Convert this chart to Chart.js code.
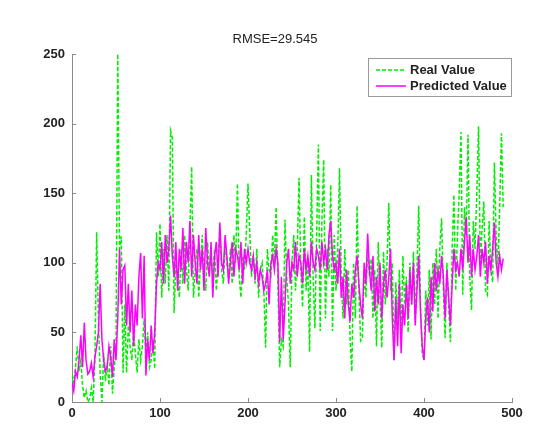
<!DOCTYPE html>
<html>
<head>
<meta charset="utf-8">
<script src="https://cdn.jsdelivr.net/npm/chart.js@4/dist/chart.umd.min.js"></script>
<style>
    html, body { margin: 0; padding: 0; background: #ffffff; }
    #wrap { width: 555px; height: 430px; position: relative; }
</style>
</head>
<body>
<div id="wrap"><canvas id="rmseChart"></canvas></div>
<script>

const chartTitle = "RMSE=29.545";

const seriesNames = ["Real Value", "Predicted Value"];

// sample spacing along x (one value every 2 steps)
const xStep = 2;

const xTicks = [0, 100, 200, 300, 400, 500];
const yTicks = [0, 50, 100, 150, 200, 250];

const realValues = [
    20, 14, 25, 40, 22, 30, 12, 3, 8, 0,
    2, 10, 0, 30, 122, 60, 20, 0, 35, 15,
    28, 12, 40, 6, 25, 38, 250, 110, 119, 21,
    70, 21, 55, 40, 30, 50, 35, 21, 45, 30,
    40, 60, 35, 50, 25, 30, 45, 24, 122, 90,
    128, 75, 110, 85, 120, 80, 195, 190, 64, 100,
    90, 75, 110, 85, 120, 95, 80, 125, 169, 75,
    95, 110, 75, 100, 120, 90, 80, 115, 95, 105,
    90, 110, 80, 100, 125, 95, 85, 115, 100, 90,
    110, 85, 120, 100, 157, 90, 75, 105, 95, 120,
    157, 122, 90, 105, 85, 110, 75, 95, 100, 80,
    39, 110, 95, 91, 120, 100, 140, 85, 25, 45,
    40, 131, 90, 70, 25, 100, 120, 80, 110, 161,
    95, 68, 133, 80, 100, 36, 163, 90, 53, 120,
    185, 51, 130, 174, 60, 110, 90, 156, 51, 120,
    80, 110, 168, 90, 60, 110, 70, 95, 45, 22,
    100, 60, 141, 80, 44, 46, 95, 75, 110, 90,
    103, 60, 95, 40, 115, 75, 39, 108, 70, 100,
    143, 80, 100, 30, 86, 60, 95, 45, 105, 70,
    90, 50, 100, 70, 108, 60, 95, 141, 70, 35,
    30, 80, 55, 95, 45, 100, 70, 110, 60, 111,
    132, 80, 46, 100, 70, 43, 110, 149, 80, 120,
    150, 194, 77, 140, 120, 192, 90, 66, 130, 110,
    150, 198, 100, 125, 144, 80, 77, 130, 95, 86,
    172, 120, 95, 140, 193, 140
];

const predictedValues = [
    14, 8, 22, 18, 30, 48, 25, 57, 30, 20,
    22, 28, 18, 32, 40, 50, 85, 45, 30, 22,
    25, 40, 32, 18, 45, 30, 60, 110, 70, 95,
    98, 55, 85, 50, 80, 40, 70, 55, 90, 107,
    60, 105, 19, 45, 30, 55, 35, 50, 85, 100,
    95, 115, 85, 120, 100, 110, 134, 105, 90, 115,
    80, 110, 95, 125, 85, 115, 100, 130, 90, 120,
    100, 85, 120, 95, 110, 80, 125, 100, 90, 115,
    75, 105, 115, 90, 129, 100, 95, 120, 105, 85,
    100, 115, 90, 110, 105, 95, 115, 85, 110, 100,
    110, 100, 95, 105, 90, 100, 85, 95, 90, 80,
    85, 95, 70, 100, 105, 95, 110, 100, 43, 90,
    45, 70, 100, 110, 85, 100, 95, 115, 90, 105,
    100, 85, 110, 95, 105, 90, 115, 100, 95, 110,
    105, 95, 115, 100, 110, 95, 120, 130, 105, 95,
    100, 85, 110, 75, 90, 60, 95, 70, 58, 85,
    75, 95, 105, 85, 70, 60, 100, 85, 121, 95,
    80, 105, 65, 90, 70, 100, 60, 85, 95, 75,
    90, 110, 60, 30, 75, 40, 85, 35, 70, 55,
    85, 60, 95, 70, 100, 55, 80, 105, 65, 40,
    30, 60, 75, 50, 90, 65, 100, 80, 95, 85,
    105, 90, 60, 95, 75, 55, 85, 110, 95, 100,
    90, 110, 95, 115, 133, 100, 120, 90, 110, 95,
    105, 120, 90, 110, 100, 115, 85, 105, 95, 110,
    129, 100, 90, 105, 95, 103
];

const GREEN = "#00ee00";
const MAGENTA = "#ff00ff";
const AXIS = "#8a8a8a";
const TEXT = "#222222";
const FONT = "'Liberation Sans', Arial, sans-serif";

function toPoints(values) {
    return values.map((v, i) => ({ x: i * xStep, y: v }));
}

// MATLAB style: ticks point inward, title and boxed legend inside the axes
const matlabDecor = {

    id: "matlabDecor",

    afterDraw(chart) {

        const ctx = chart.ctx;
        const area = chart.chartArea;
        const xs = chart.scales.x;
        const ys = chart.scales.y;

        ctx.save();

        ctx.strokeStyle = AXIS;
        ctx.lineWidth = 1;
        ctx.beginPath();
        xTicks.forEach(t => {
            const px = Math.round(xs.getPixelForValue(t)) + 0.5;
            ctx.moveTo(px, area.bottom);
            ctx.lineTo(px, area.bottom - 4);
        });
        yTicks.forEach(t => {
            const py = Math.round(ys.getPixelForValue(t)) + 0.5;
            ctx.moveTo(area.left, py);
            ctx.lineTo(area.left + 4, py);
        });
        ctx.stroke();

        ctx.fillStyle = TEXT;
        ctx.font = "13px " + FONT;
        ctx.textAlign = "center";
        ctx.textBaseline = "middle";
        ctx.fillText(chartTitle, 275, 39);

        // legend box
        const bx = 368, by = 58, bw = 143, bh = 38;
        ctx.fillStyle = "#ffffff";
        ctx.fillRect(bx, by, bw, bh);
        ctx.strokeStyle = "#9a9a9a";
        ctx.strokeRect(bx + 0.5, by + 0.5, bw, bh);

        const rows = [70, 86];
        chart.data.datasets.forEach((ds, i) => {
            ctx.strokeStyle = ds.borderColor;
            ctx.lineWidth = 1.5;
            ctx.setLineDash(ds.borderDash || []);
            ctx.beginPath();
            ctx.moveTo(376, rows[i]);
            ctx.lineTo(406, rows[i]);
            ctx.stroke();
            ctx.setLineDash([]);

            ctx.fillStyle = TEXT;
            ctx.font = "bold 13px " + FONT;
            ctx.textAlign = "left";
            ctx.fillText(ds.label, 410, rows[i]);
        });

        ctx.restore();

    }

};

const ctx = document.getElementById("rmseChart").getContext("2d");

new Chart(ctx, {

    type: "line",

    data: {
        datasets: [
            {
                label: seriesNames[0],
                data: toPoints(realValues),
                borderColor: GREEN,
                borderWidth: 1.5,
                borderDash: [4, 2],
                pointRadius: 0,
                tension: 0,
                order: 2
            },
            {
                label: seriesNames[1],
                data: toPoints(predictedValues),
                borderColor: MAGENTA,
                borderWidth: 1.5,
                pointRadius: 0,
                tension: 0,
                order: 1
            }
        ]
    },

    options: {

        responsive: true,
        maintainAspectRatio: false,
        animation: false,

        layout: {
            padding: { top: 54, right: 43, left: 0, bottom: 0 }
        },

        plugins: {
            legend: { display: false },
            tooltip: { enabled: false },
            title: { display: false }
        },

        scales: {

            x: {
                type: "linear",
                min: 0,
                max: 500,
                afterBuildTicks: s => { s.ticks = xTicks.map(v => ({ value: v })); },
                afterFit: s => { s.height = 28; },
                grid: { display: false, drawTicks: false },
                border: { display: true, color: AXIS, width: 1 },
                ticks: {
                    color: TEXT,
                    padding: 4,
                    maxRotation: 0,
                    font: { family: FONT, size: 13, weight: "bold" }
                }
            },

            y: {
                type: "linear",
                min: 0,
                max: 250,
                afterBuildTicks: s => { s.ticks = yTicks.map(v => ({ value: v })); },
                afterFit: s => { s.width = 72; },
                grid: { display: false, drawTicks: false },
                border: { display: true, color: AXIS, width: 1 },
                ticks: {
                    color: TEXT,
                    padding: 7,
                    font: { family: FONT, size: 13, weight: "bold" }
                }
            }

        }

    },

    plugins: [matlabDecor]

});

</script>
</body>
</html>
